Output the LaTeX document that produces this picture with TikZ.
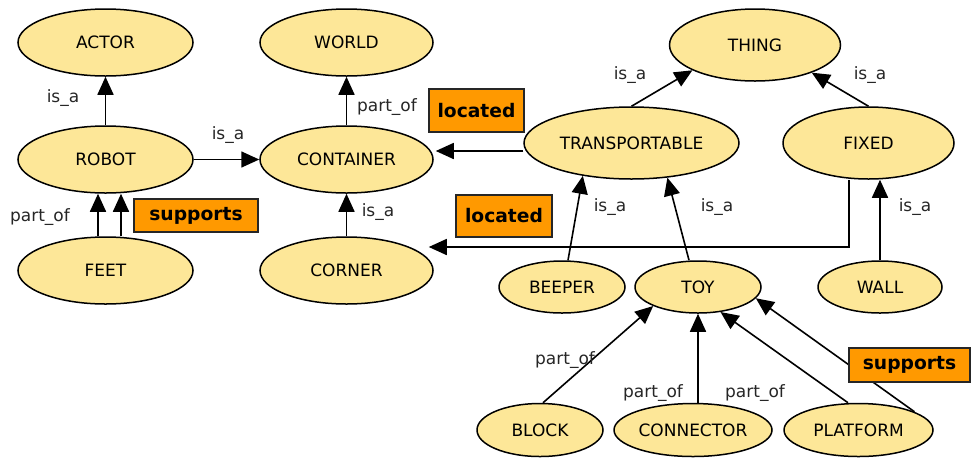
\documentclass[tikz,border=0pt]{standalone}
\usepackage{fontspec}
\setmainfont{DejaVu Sans}
\usetikzlibrary{arrows.meta,shapes.geometric,calc}
\definecolor{ellfill}{RGB}{253,231,152}
\definecolor{relfill}{RGB}{255,153,0}
\begin{document}
\begin{tikzpicture}[x=1pt,y=-1pt,
  concept/.style={ellipse, draw=black, line width=1.5pt, fill=ellfill, inner sep=0pt,
    font=\fontsize{17}{20}\selectfont},
  arr/.style={-{Triangle[length=18pt,width=16pt]}, line width=1.6pt},
  lbl/.style={font=\fontsize{17}{20}\selectfont, text=black!85, inner sep=0pt},
  rel/.style={draw=black!85, line width=1.5pt, fill=relfill, inner sep=0pt,
    font=\bfseries\fontsize{18.7}{22}\selectfont}]
\useasboundingbox (0,0) rectangle (971,459);

% concepts
\node[concept, minimum width=175pt, minimum height=67pt] (actor) at (105.5,42.5) {ACTOR};
\node[concept, minimum width=173pt, minimum height=67pt] (world) at (346.5,42.5) {WORLD};
\node[concept, minimum width=175pt, minimum height=67pt] (robot) at (105.5,159.5) {ROBOT};
\node[concept, minimum width=173pt, minimum height=67pt] (container) at (346.5,159.5) {CONTAINER};
\node[concept, minimum width=175pt, minimum height=67pt] (feet) at (105.5,270.5) {FEET};
\node[concept, minimum width=173pt, minimum height=67pt] (corner) at (346.5,270.5) {CORNER};
\node[concept, minimum width=171pt, minimum height=72pt] (thing) at (755,45) {THING};
\node[concept, minimum width=215pt, minimum height=72pt] (trans) at (631.5,143) {TRANSPORTABLE};
\node[concept, minimum width=171pt, minimum height=72pt] (fixed) at (868.5,143) {FIXED};
\node[concept, minimum width=126pt, minimum height=52pt] (beeper) at (562,287) {BEEPER};
\node[concept, minimum width=126pt, minimum height=52pt] (toy) at (698,287) {TOY};
\node[concept, minimum width=124pt, minimum height=52pt] (wall) at (880,287) {WALL};
\node[concept, minimum width=126pt, minimum height=53pt] (block) at (540,430) {BLOCK};
\node[concept, minimum width=158pt, minimum height=53pt] (connector) at (693,430) {CONNECTOR};
\node[concept, minimum width=149pt, minimum height=53pt] (platform) at (858.5,430) {PLATFORM};

% connectors
\draw[arr] (robot.north) -- (actor.south);
\draw[arr] (container.north) -- (world.south);
\draw[arr] (robot.east) -- (container.west);
\draw[arr] ([xshift=-7.5pt]feet.north) -- ([xshift=-7.5pt]robot.south);
\draw[arr] ([xshift=15.5pt]feet.north) -- ([xshift=15.5pt]robot.south);
\draw[arr] (corner.north) -- (container.south);
\draw[arr] ([yshift=-8pt]trans.west) -- ([yshift=8.5pt,xshift=2pt]container.east);
\draw[arr] ([xshift=-19.5pt]fixed.south) |- ([xshift=-5pt,yshift=23.5pt]corner.east);
\draw[arr] (trans.north) -- (thing.202);
\draw[arr] (fixed.north) -- (thing.334);
\draw[arr] ([xshift=6pt]beeper.north) -- (trans.214);
\draw[arr] ([xshift=-9pt]toy.north) -- (trans.316);
\draw[arr] (wall.north) -- (wall.north |- fixed.south);
\draw[arr] ([xshift=3pt]block.north) -- (toy.203);
\draw[arr] (toy.south |- connector.north) -- (toy.south);
\draw[arr] ([xshift=-10.5pt]platform.north) -- (toy.312);
\draw[arr] (platform.18) -- (toy.349);

% relation boxes
\node[rel, minimum width=124pt, minimum height=33pt] (sup1) at (196,215.5) {supports};
\node[rel, minimum width=95pt, minimum height=43pt] (loc1) at (476.5,110.5) {located};
\node[rel, minimum width=96pt, minimum height=42pt] (loc2) at (504,216) {located};
\node[rel, minimum width=121pt, minimum height=34pt] (sup2) at (909.5,365) {supports};

% labels
\node[lbl] (l1) at (63,98) {is\_a};
\node[lbl] (l2) at (387,107) {part\_of};
\node[lbl] (l3) at (228,135) {is\_a};
\node[lbl] (l4) at (40,217) {part\_of};
\node[lbl] (l5) at (378,212) {is\_a};
\node[lbl] (l6) at (630,75) {is\_a};
\node[lbl] (l7) at (870,75) {is\_a};
\node[lbl] (l8) at (610,207) {is\_a};
\node[lbl] (l9) at (717,207) {is\_a};
\node[lbl] (l10) at (915,207) {is\_a};
\node[lbl] (l11) at (565,360) {part\_of};
\node[lbl] (l12) at (653,393) {part\_of};
\node[lbl] (l13) at (755,393) {part\_of};
\end{tikzpicture}
\end{document}
